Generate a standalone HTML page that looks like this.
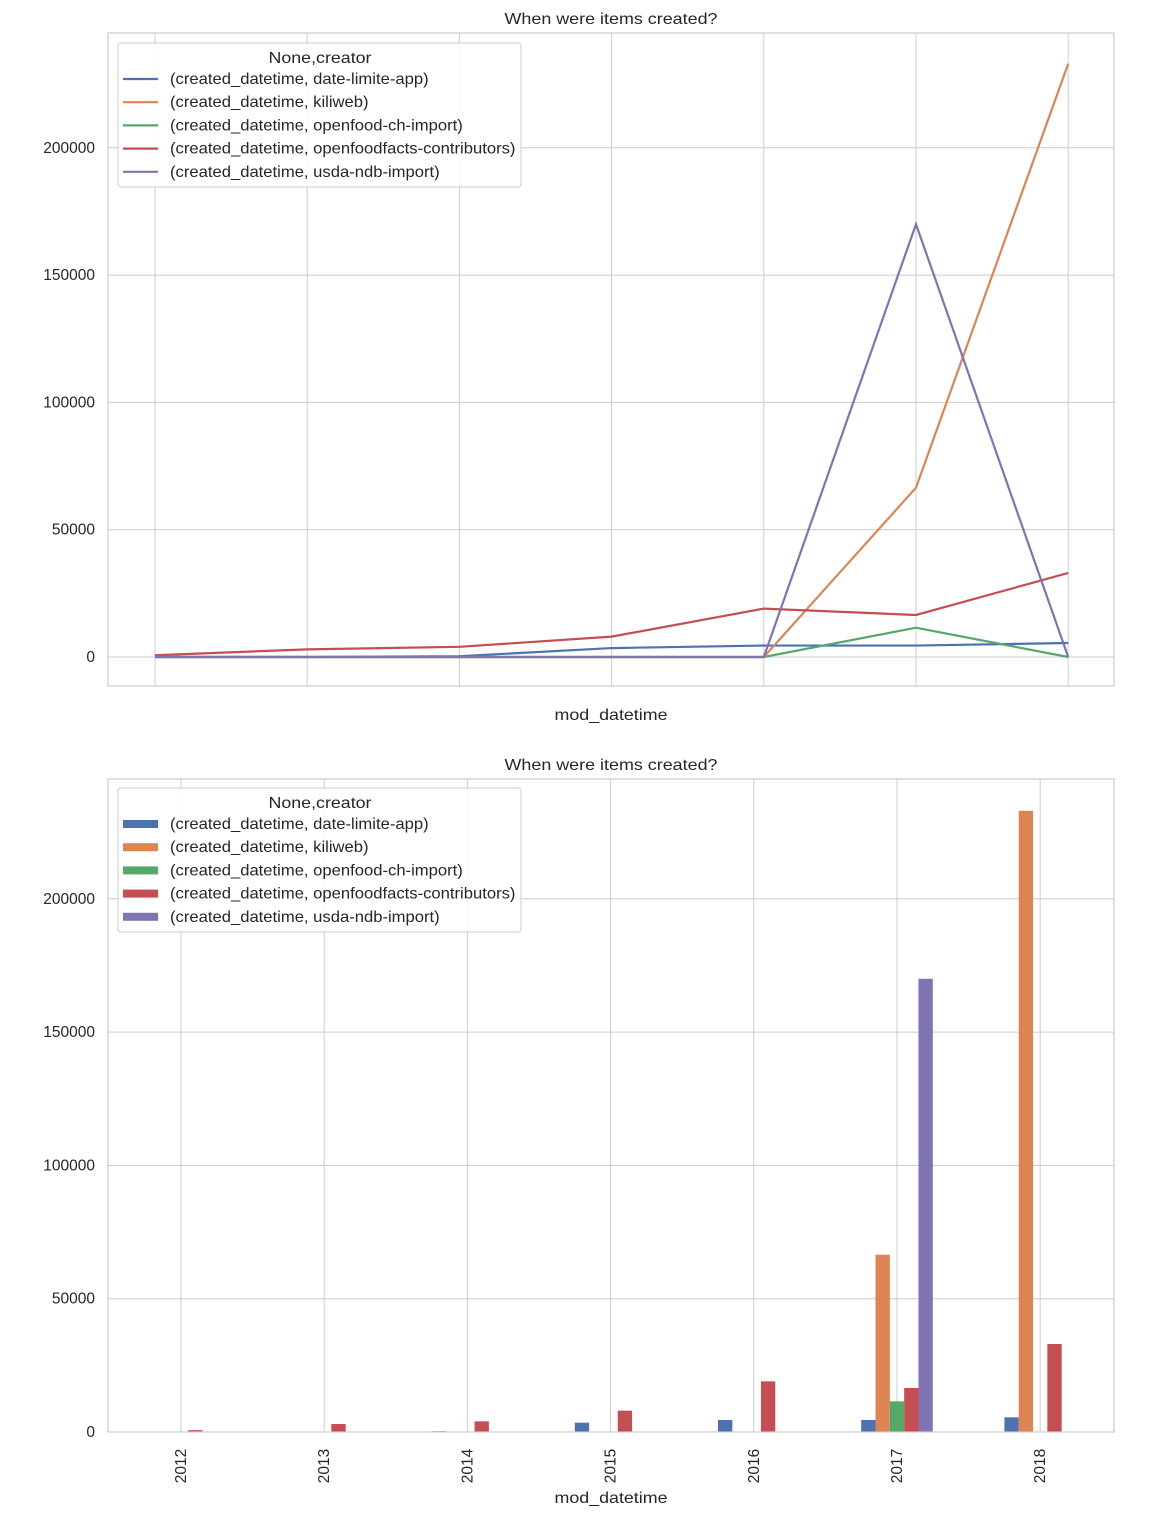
<!DOCTYPE html>
<html><head><meta charset="utf-8">
<style>
body{margin:0;background:#fff;}
svg{display:block;font-family:"Liberation Sans",sans-serif;}
</style></head>
<body>
<svg id="c" width="1156" height="1519" xmlns="http://www.w3.org/2000/svg"></svg>
<script>
const categories=["2012","2013","2014","2015","2016","2017","2018"];
const seriesNames=["(created_datetime, date-limite-app)","(created_datetime, kiliweb)","(created_datetime, openfood-ch-import)","(created_datetime, openfoodfacts-contributors)","(created_datetime, usda-ndb-import)"];
const dateLimite=[0,0,300,3500,4500,4500,5500];
const kiliweb=[0,0,0,0,0,66500,233000];
const openfoodCh=[0,0,0,0,0,11500,0];
const offContrib=[700,3000,4000,8000,19000,16500,33000];
const usda=[0,0,0,0,0,170000,0];
const yTicks=[0,50000,100000,150000,200000];
const series=[dateLimite,kiliweb,openfoodCh,offContrib,usda];
const colors=["#4c72b0","#dd8452","#55a868","#c44e52","#8172b3"];
const svg=document.getElementById('c');
const NS="http://www.w3.org/2000/svg";
function mk(tag,attrs,parent,text){const e=document.createElementNS(NS,tag);for(const k in attrs)e.setAttribute(k,attrs[k]);if(text!==undefined)e.textContent=text;(parent||svg).appendChild(e);return e;}
const stretch=[];
function fit(t,target){stretch.push([t,target]);}

// ---- top line chart ----
const T={x0:108,x1:1114,y0:33,y1:686};
const tx=i=>155+i*152.2;
const ty=v=>657-v/50000*127.3;
const g1=mk('g',{});


mk('rect',{x:T.x0,y:T.y0,width:T.x1-T.x0,height:T.y1-T.y0,fill:'#fff'},g1);
categories.forEach((c,i)=>{const l=mk('line',{x1:tx(i),x2:tx(i),y1:T.y0,y2:T.y1,stroke:'#ccc','stroke-width':1},g1);
});
yTicks.forEach(v=>{mk('line',{x1:T.x0,x2:T.x1,y1:ty(v),y2:ty(v),stroke:'#ccc','stroke-width':1},g1);
const t=mk('text',{x:95,y:ty(v)+5,'text-anchor':'end','font-size':15.5,fill:'#262626'},g1,String(v));
});
series.forEach((s,k)=>{const p=mk('polyline',{points:s.map((v,i)=>tx(i)+','+ty(v)).join(' '),fill:'none',stroke:colors[k],'stroke-width':2.2},g1);
});
mk('rect',{x:T.x0,y:T.y0,width:T.x1-T.x0,height:T.y1-T.y0,fill:'none',stroke:'#ccc','stroke-width':1.2},g1);
let tt=mk('text',{x:611,y:24,'text-anchor':'middle','font-size':16,fill:'#262626'},g1,'When were items created?');
fit(tt,213);
tt=mk('text',{x:611,y:720,'text-anchor':'middle','font-size':16,fill:'#262626'},g1,'mod_datetime');
fit(tt,113);
function legend(g,top,patch){
 const lg=mk('g',{},g);
 
 mk('rect',{x:118,y:top,width:403,height:144,fill:'#fff','fill-opacity':0.85,stroke:'#ccc',rx:3},lg);
 const ti=mk('text',{x:320,y:top+20,'text-anchor':'middle','font-size':16,fill:'#262626'},lg,'None,creator');
 fit(ti,103);
 seriesNames.forEach((n,k)=>{const y=top+36+k*23.2;
  if(patch)mk('rect',{x:123,y:y-4,width:35,height:8,fill:colors[k]},lg);
  else mk('line',{x1:123,x2:158,y1:y,y2:y,stroke:colors[k],'stroke-width':2.2},lg);
  const t=mk('text',{x:170,y:y+5,'font-size':16,fill:'#262626'},lg,n);
  fit(t,-1);});
}
legend(g1,43,false);

// ---- bottom bar chart ----
const B={x0:108,x1:1114,y0:779,y1:1432};
const bx=i=>181+i*143.2;
const by=v=>1432-v/50000*133.3;
const bw=143.2*0.5/5;
const g2=mk('g',{});


categories.forEach((c,i)=>{mk('line',{x1:bx(i),x2:bx(i),y1:B.y0,y2:B.y1,stroke:'#ccc','stroke-width':1},g2);
const t=mk('text',{transform:`translate(${bx(i)+5},1466) rotate(-90)`,'text-anchor':'middle','font-size':15.5,fill:'#262626'},g2,c);
});
yTicks.forEach(v=>{mk('line',{x1:B.x0,x2:B.x1,y1:by(v),y2:by(v),stroke:'#ccc','stroke-width':1},g2);
const t=mk('text',{x:95,y:by(v)+5,'text-anchor':'end','font-size':15.5,fill:'#262626'},g2,String(v));
});
series.forEach((s,k)=>{s.forEach((v,i)=>{if(v<=0)return;
 const x=bx(i)-2.5*bw+k*bw;
 const r=mk('rect',{x:x,y:by(v),width:bw,height:by(0)-by(v),fill:colors[k]},g2);
 });});
mk('rect',{x:B.x0,y:B.y0,width:B.x1-B.x0,height:B.y1-B.y0,fill:'none',stroke:'#ccc','stroke-width':1.2},g2);
tt=mk('text',{x:611,y:770,'text-anchor':'middle','font-size':16,fill:'#262626'},g2,'When were items created?');
fit(tt,213);
tt=mk('text',{x:611,y:1503,'text-anchor':'middle','font-size':16,fill:'#262626'},g2,'mod_datetime');
fit(tt,113);
legend(g2,788,true);

stretch.forEach(([t,target])=>{const w=t.getComputedTextLength();
 const tw=target>0?target:w*14.5/16*1.146;
 if(w>0){t.setAttribute('textLength',tw);t.setAttribute('lengthAdjust','spacingAndGlyphs');}});
</script>
</body></html>
